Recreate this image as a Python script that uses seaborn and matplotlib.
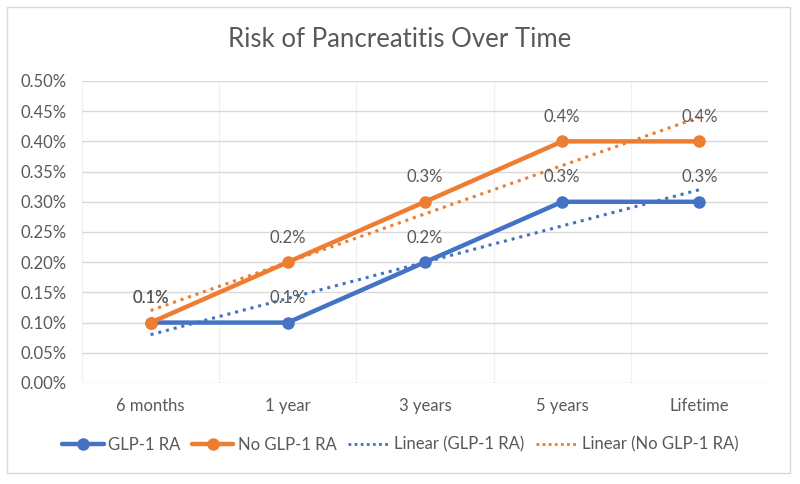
import numpy as np
import pandas as pd
import matplotlib
matplotlib.use("Agg")
import matplotlib.pyplot as plt
from matplotlib.lines import Line2D
from matplotlib.patches import Rectangle
from matplotlib.ticker import FuncFormatter, MultipleLocator
import seaborn as sns

# -----------------------------------------------------------
# Data (percent values)
# -----------------------------------------------------------
periods = ["6 months", "1 year", "3 years", "5 years", "Lifetime"]
glp1_ra = [0.1, 0.1, 0.2, 0.3, 0.3]
no_glp1_ra = [0.1, 0.2, 0.3, 0.4, 0.4]
y_ticks = [0.00, 0.05, 0.10, 0.15, 0.20, 0.25, 0.30, 0.35, 0.40, 0.45, 0.50]

BLUE = "#4472C4"
ORANGE = "#ED7D31"
TEXT = "#595959"

sns.set_theme(style="white")
plt.rcParams["font.family"] = ["Lato", "DejaVu Sans"]

pos = np.arange(len(periods))
df = pd.DataFrame({
    "pos": np.concatenate([pos, pos]),
    "risk": glp1_ra + no_glp1_ra,
    "group": ["GLP-1 RA"] * len(pos) + ["No GLP-1 RA"] * len(pos),
})

fig = plt.figure(figsize=(8, 4.84), dpi=100)
ax = fig.add_axes([0.1025, 0.2087, 0.8575, 0.624])

# grid
ax.set_xlim(-0.5, len(periods) - 0.5)
ax.set_ylim(0, 0.5)
ax.set_xticks(pos)
ax.set_xticks(np.arange(-0.5, len(periods), 0.5), minor=True)
ax.yaxis.set_major_locator(MultipleLocator(0.05))
ax.grid(axis="x", which="minor", color="#f0f0f0", lw=1, zorder=0)
ax.grid(axis="y", which="major", color="#d9d9d9", lw=1, zorder=0)
for s in ax.spines.values():
    s.set_visible(False)

# trend lines (linear fit, like Excel)
sns.regplot(x=pos, y=glp1_ra, ax=ax, scatter=False, ci=None, color=BLUE,
            line_kws=dict(ls=(0, (1, 1.6)), lw=2.2, zorder=3))
sns.regplot(x=pos, y=no_glp1_ra, ax=ax, scatter=False, ci=None, color=ORANGE,
            line_kws=dict(ls=(0, (1, 1.6)), lw=2.2, zorder=3))

# main series
sns.lineplot(data=df, x="pos", y="risk", hue="group",
             palette={"GLP-1 RA": BLUE, "No GLP-1 RA": ORANGE},
             marker="o", markersize=9, markeredgewidth=0, lw=3.2,
             ax=ax, legend=False, zorder=4)

# data labels
for vals in (glp1_ra, no_glp1_ra):
    for x, v in zip(pos, vals):
        ax.annotate(f"{v:.1f}%", (x, v), xytext=(0, 17.5), textcoords="offset points",
                    ha="center", va="center", fontsize=12, color=TEXT, zorder=5)

ax.set_xticklabels(periods)
ax.set_yticks(y_ticks)
ax.yaxis.set_major_formatter(FuncFormatter(lambda v, _: f"{v:.2f}%"))
ax.tick_params(axis="both", length=0, labelsize=12, labelcolor=TEXT)
ax.tick_params(axis="x", pad=11)
ax.tick_params(axis="y", pad=11)
ax.set_xlabel("")
ax.set_ylabel("")

fig.text(0.5, 0.918, "Risk of Pancreatitis Over Time", ha="center", va="center",
         fontsize=18.5, color=TEXT)

handles = [
    Line2D([], [], color=BLUE, lw=3.2, marker="o", markersize=9, markeredgewidth=0),
    Line2D([], [], color=ORANGE, lw=3.2, marker="o", markersize=9, markeredgewidth=0),
    Line2D([], [], color=BLUE, lw=2, ls=(0, (1, 1.2))),
    Line2D([], [], color=ORANGE, lw=2, ls=(0, (1, 1.2))),
]
labels = ["GLP-1 RA", "No GLP-1 RA", "Linear (GLP-1 RA)", "Linear (No GLP-1 RA)"]
leg = fig.legend(handles, labels, loc="center", bbox_to_anchor=(0.5, 0.081), ncol=4,
                 frameon=False, fontsize=12, handlelength=2.5, handletextpad=0.25,
                 columnspacing=0.7)
for t in leg.get_texts():
    t.set_color(TEXT)

fig.patches.append(Rectangle((0.009, 0.023), 0.979, 0.962, transform=fig.transFigure,
                             fill=False, edgecolor="#d9d9d9", lw=1))

fig.savefig("out.png", dpi=100)
